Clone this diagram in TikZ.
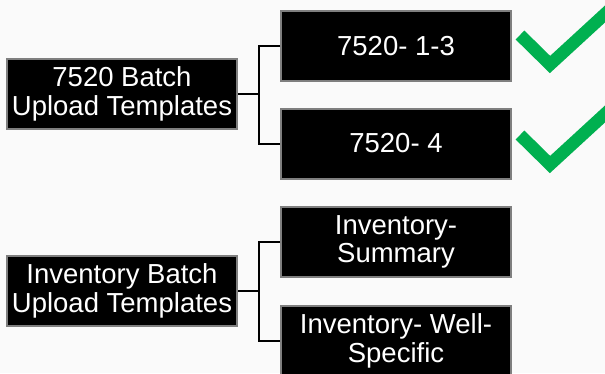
\documentclass[tikz,border=0pt]{standalone}
\usepackage{fontspec}
\setmainfont{Liberation Sans}
\definecolor{bg}{HTML}{FAFAFA}
\definecolor{boxborder}{HTML}{7F7F7F}
\definecolor{checkgreen}{HTML}{00B050}
\begin{document}
\begin{tikzpicture}[x=1pt,y=-1pt,
  blackbox/.style={draw=boxborder, line width=2pt, fill=black, text=white,
    minimum width=230pt, minimum height=70pt, inner sep=0pt, align=center,
    font=\fontsize{27.5}{28.5}\selectfont},
  link/.style={draw=black, line width=2pt},
  tick/.style={draw=checkgreen, line width=12.5pt, line join=miter, line cap=butt}]
\fill[bg] (0,0) rectangle (605,373);
\useasboundingbox (0,0) rectangle (605,373);
% top group
\node[blackbox] (L1) at (122,94) {7520 Batch\\Upload Templates};
\node[blackbox] (R1) at (396,46) {7520- 1-3};
\node[blackbox] (R2) at (396,143.5) {7520- 4};
\coordinate (J1) at (259,94);
\draw[link] (L1.east) -- (J1);
\draw[link] (R1.west) -| (J1) |- (R2.west);
% bottom group
\node[blackbox] (L2) at (122,291) {Inventory Batch\\Upload Templates};
\node[blackbox] (R3) at (396,242) {Inventory-\\Summary};
\node[blackbox] (R4) at (396,341) {Inventory- Well-\\Specific};
\coordinate (J2) at (259,291);
\draw[link] (L2.east) -- (J2);
\draw[link] (R3.west) -| (J2) |- (R4.west);
% check marks
\draw[tick] (520,35) -- (550,64.5) -- (620,0.2);
\draw[tick] (520,135) -- (550,164.5) -- (620,100.2);
\end{tikzpicture}
\end{document}
